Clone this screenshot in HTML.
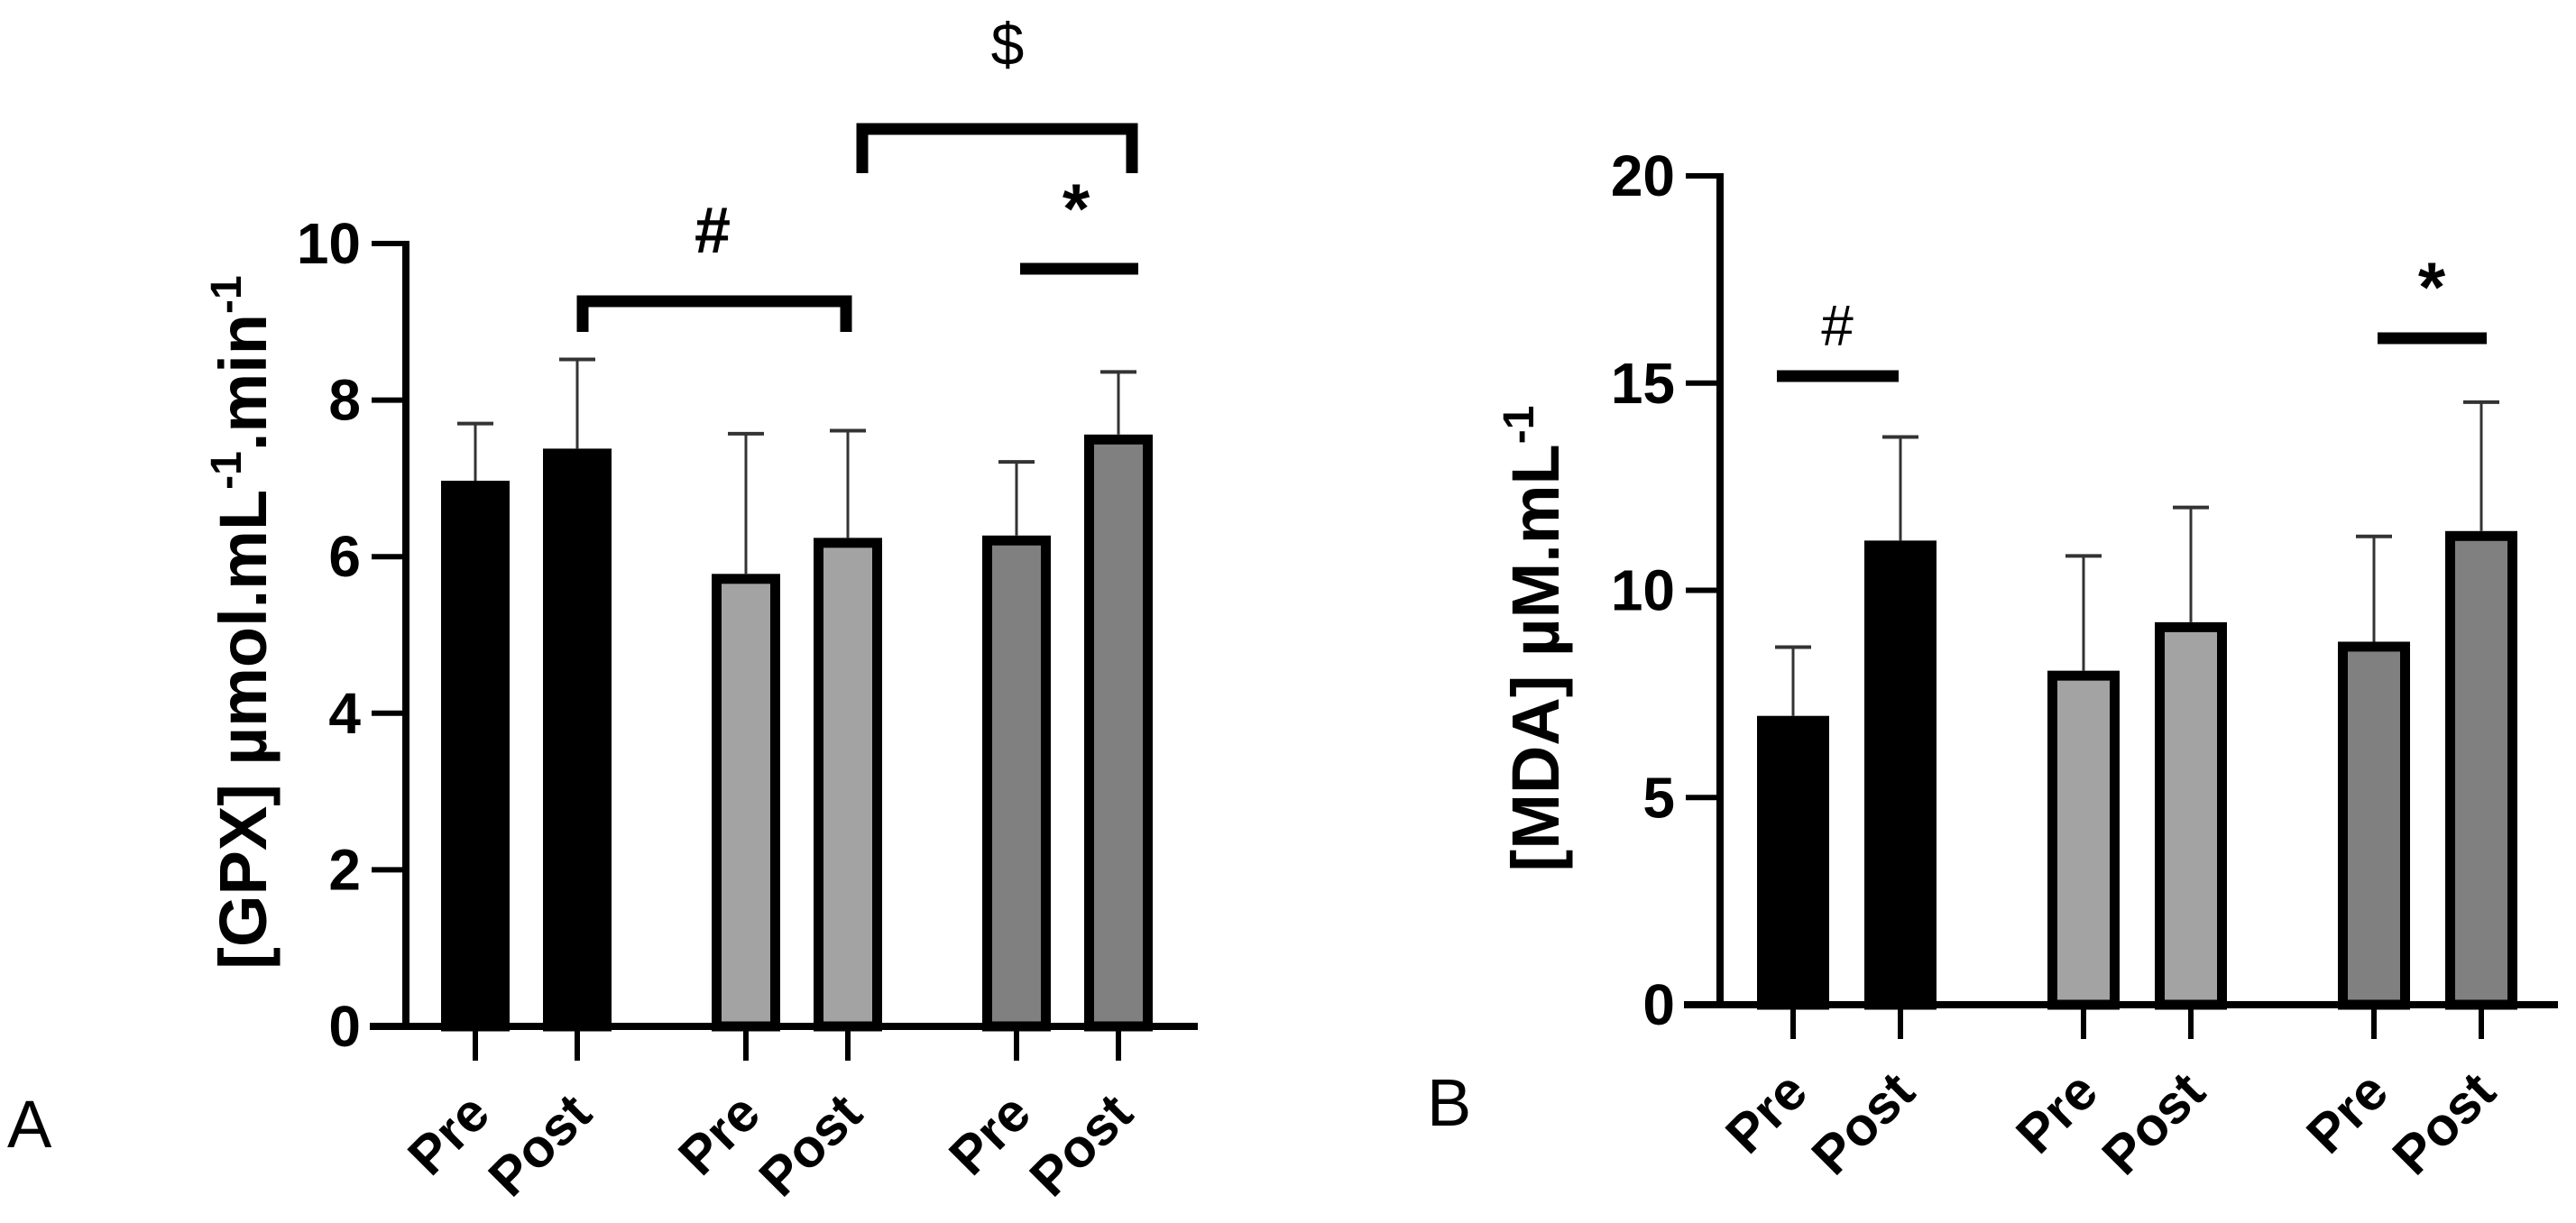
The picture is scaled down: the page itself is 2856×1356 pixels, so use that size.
<!DOCTYPE html>
<html><head><meta charset="utf-8"><style>
html,body{margin:0;padding:0;background:#fff;}
svg{display:block;font-family:"Liberation Sans",Arial,sans-serif;}
</style></head><body>
<svg id="chart" width="2856" height="1356" viewBox="0 0 2856 1356" xmlns="http://www.w3.org/2000/svg">
<g id="panelA"></g>
<g id="panelB"></g>
<text x="8" y="1272" font-size="74">A</text>
<text x="1582" y="1248" font-size="74">B</text>
</svg>
<script>
const categories = ["Pre","Post","Pre","Post","Pre","Post"];
const groupIndex = [0,0,1,1,2,2];
const gpxMeans = [6.97,7.38,5.78,6.24,6.27,7.56];
const gpxErrors = [0.73,1.14,1.79,1.37,0.94,0.80];
const gpxTicks = [0,2,4,6,8,10];
const mdaMeans = [6.97,11.2,8.06,9.23,8.76,11.43];
const mdaErrors = [1.66,2.5,2.77,2.77,2.54,3.11];
const mdaTicks = [0,5,10,15,20];
const fills = ["#000000","#000000","#a3a3a3","#a3a3a3","#808080","#808080"];

const NS = "http://www.w3.org/2000/svg";
function mk(parent, tag, attrs, txt){
  const e = document.createElementNS(NS, tag);
  for (const k in attrs) e.setAttribute(k, attrs[k]);
  if (txt !== undefined) e.textContent = txt;
  parent.appendChild(e);
  return e;
}

function drawPanel(g, cfg, means, errors, ticks, prefix){
  const yScale = v => cfg.y0 - (v - 0) * (cfg.y0 - cfg.yMaxPx) / (ticks[ticks.length-1]);
  const xScale = i => cfg.start + groupIndex[i]*cfg.groupGap + (i%2)*cfg.pairGap;
  means.forEach((m, i) => {
    const cx = xScale(i), sw = 11;
    const top = yScale(m);
    const r = mk(g, "rect", {x: cx - cfg.barW/2 + sw/2, y: top + sw/2, width: cfg.barW - sw, height: cfg.y0 - top - sw/2, fill: fills[i], stroke: "#000", "stroke-width": sw});
    
    
    const et = yScale(m + errors[i]);
    const l = mk(g, "line", {x1: cx, x2: cx, y1: top, y2: et, stroke: "#333", "stroke-width": 3});
    
    
    const c = mk(g, "line", {x1: cx - 20, x2: cx + 20, y1: et, y2: et, stroke: "#333", "stroke-width": 4});
    
    
    const t = mk(g, "line", {x1: cx, x2: cx, y1: cfg.y0, y2: cfg.y0 + 38, stroke: "#000", "stroke-width": 6});
    
    
    const bx = cx + 19, by = cfg.y0 + 100;
    const lb = mk(g, "text", {x: bx, y: by, "font-size": 60, "font-weight": "bold", "text-anchor": "end", transform: "rotate(-45 " + bx + " " + by + ")"}, categories[i]);
    
    
  });
  const ya = mk(g, "line", {x1: cfg.axisX, x2: cfg.axisX, y1: cfg.yMaxPx - 3, y2: cfg.y0 + 4, stroke: "#000", "stroke-width": 8});
  
  
  const xa = mk(g, "line", {x1: cfg.axisX - 40, x2: cfg.axisEnd, y1: cfg.y0, y2: cfg.y0, stroke: "#000", "stroke-width": 8});
  
  
  ticks.forEach((v, k) => {
    const y = yScale(v);
    const tk = mk(g, "line", {x1: cfg.axisX - 38, x2: cfg.axisX, y1: y, y2: y, stroke: "#000", "stroke-width": 6});
    
    
    const tl = mk(g, "text", {x: cfg.axisX - 50, y: y + 22, "font-size": 64, "font-weight": "bold", "text-anchor": "end"}, String(v));
    
    
  });
}

const gA = document.getElementById("panelA");
drawPanel(gA, {axisX: 450, axisEnd: 1328, y0: 1138, yMaxPx: 270, start: 527, groupGap: 300, pairGap: 113, barW: 76}, gpxMeans, gpxErrors, gpxTicks, "gpx");
const gB = document.getElementById("panelB");
drawPanel(gB, {axisX: 1907, axisEnd: 2836, y0: 1114, yMaxPx: 195, start: 1988, groupGap: 322, pairGap: 119, barW: 80}, mdaMeans, mdaErrors, mdaTicks, "mda");

function path(g, d, name){
  const p = mk(g, "path", {d: d, fill: "none", stroke: "#000", "stroke-width": 13, "stroke-linejoin": "miter"});
  
  
}
function txt(g, x, y, s, size, name, bold){
  const t = mk(g, "text", {x: x, y: y, "font-size": size, "font-weight": bold ? "bold" : "normal", "text-anchor": "middle"}, s);
  
  
}
path(gA, "M646 368 L646 334 L938 334 L938 368", "gpx-hash-bracket");
txt(gA, 790, 280, "#", 72, "gpx-hash-marker", true);
path(gA, "M956 192 L956 143 L1255 143 L1255 192", "gpx-dollar-bracket");
txt(gA, 1117, 72, "$", 66, "gpx-dollar-marker", false);
path(gA, "M1131 298 L1262 298", "gpx-star-line");
txt(gA, 1193, 258, "*", 78, "gpx-star-marker", true);

path(gB, "M1970 417 L2105 417", "mda-hash-line");
txt(gB, 2037, 383, "#", 64, "mda-hash-marker", false);
path(gB, "M2636 375 L2757 375", "mda-star-line");
txt(gB, 2696, 345, "*", 78, "mda-star-marker", true);

const ta = mk(gA, "text", {x: 0, y: 0, "font-size": 74, "font-weight": "bold", "text-anchor": "middle", transform: "translate(295 690) rotate(-90)"});


ta.innerHTML = '[GPX] µmol.mL<tspan dy="-28" font-size="48">-1</tspan><tspan dy="28">.min</tspan><tspan dy="-28" font-size="48">-1</tspan>';
const tb = mk(gB, "text", {x: 0, y: 0, "font-size": 74, "font-weight": "bold", "text-anchor": "middle", transform: "translate(1728 708) rotate(-90)"});


tb.innerHTML = '[MDA] µM.mL<tspan dy="-28" font-size="48">-1</tspan>';
</script>
</body></html>
